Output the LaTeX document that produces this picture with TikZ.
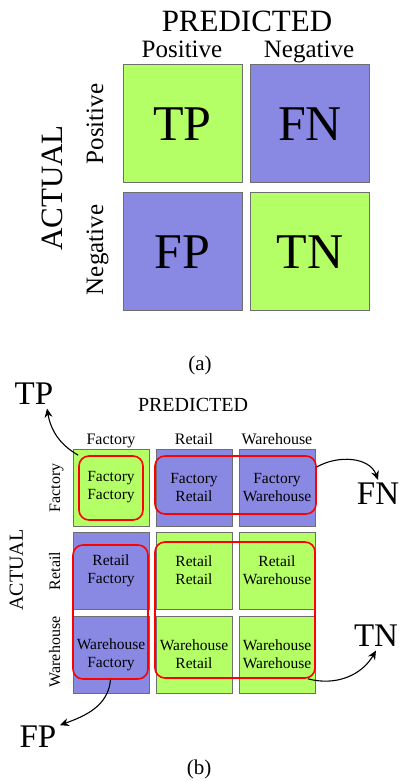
\documentclass[tikz,border=0pt]{standalone}
\usepackage{fontspec}
\setmainfont{Liberation Serif}
\usetikzlibrary{arrows.meta}

\definecolor{tpgreen}{RGB}{180,255,102}
\definecolor{fnblue}{RGB}{137,137,228}
\definecolor{edgegray}{RGB}{110,110,110}

\tikzset{
  cellA/.style={draw=edgegray, line width=1pt, minimum width=119pt, minimum height=118pt,
    inner sep=0pt, font=\fontsize{50}{55}\selectfont},
  cellB/.style={draw=edgegray, line width=0.8pt, minimum width=76pt, minimum height=77pt,
    inner sep=0pt, align=center, font=\fontsize{15.5}{18}\selectfont},
  redbox/.style={draw=red, line width=1.6pt, rounded corners=10pt, inner sep=0pt},
  bigtag/.style={anchor=base, font=\fontsize{33}{36}\selectfont},
  sidetag/.style={anchor=base, rotate=90},
  curlink/.style={-{Stealth[length=9pt,width=8pt]}, line width=1.1pt},
}

\begin{document}
\begin{tikzpicture}[x=1pt,y=1pt]
  \useasboundingbox (0,0) rectangle (401,781);
    % ---- (a): two-class matrix ----
    \begin{scope}
      \node[cellA, fill=tpgreen] (tp) at (182.5,657) {TP};
      \node[cellA, fill=fnblue]  (fn) at (310,657)   {FN};
      \node[cellA, fill=fnblue]  (fp) at (182.5,529) {FP};
      \node[cellA, fill=tpgreen] (tn) at (310,529)   {TN};
      \node[anchor=base, font=\fontsize{31}{34}\selectfont] (predA) at (247,749) {PREDICTED};
      \node[anchor=base, font=\fontsize{25}{28}\selectfont] (colpos) at (182,723) {Positive};
      \node[anchor=base, font=\fontsize{25}{28}\selectfont] (colneg) at (309,723) {Negative};
      \node[sidetag, font=\fontsize{31}{34}\selectfont] (actA) at (62,593) {ACTUAL};
      \node[sidetag, font=\fontsize{25}{28}\selectfont] (rowpos) at (103,657) {Positive};
      \node[sidetag, font=\fontsize{25}{28}\selectfont] (rowneg) at (103,531) {Negative};
      \node[font=\fontsize{21}{24}\selectfont] (capa) at (200,416) {(a)};
    \end{scope}
    % ---- (b): three-class matrix ----
    \begin{scope}
      \foreach \x/\y/\col/\nm/\txt in {%
        111/293.5/tpgreen/ff/{Factory\\Factory},194/293.5/fnblue/fr/{Factory\\Retail},%
        277/293.5/fnblue/fw/{Factory\\Warehouse},%
        111/210.5/fnblue/rf/{Retail\\Factory},194/210.5/tpgreen/rr/{Retail\\Retail},%
        277/210.5/tpgreen/rw/{Retail\\Warehouse},%
        111/126.5/fnblue/wf/{Warehouse\\Factory},194/126.5/tpgreen/wr/{Warehouse\\Retail},%
        277/126.5/tpgreen/ww/{Warehouse\\Warehouse}}{
          \node[cellB, fill=\col] (c\nm) at (\x,\y) {\txt};}
      \node[redbox, minimum width=64pt,  minimum height=64pt]  (tpbox) at (111,293)   {};
      \node[redbox, minimum width=161pt, minimum height=58pt]  (fnbox) at (235.5,296) {};
      \node[redbox, minimum width=75pt,  minimum height=134pt] (fpbox) at (110.5,169) {};
      \node[redbox, minimum width=160pt, minimum height=136pt] (tnbox) at (235,171)   {};
      \node[anchor=base, font=\fontsize{20}{23}\selectfont] (predB) at (193,369) {PREDICTED};
      \foreach \x/\nm/\txt in {111/f/Factory,194/r/Retail,277/w/Warehouse}{
        \node[anchor=base, font=\fontsize{16}{19}\selectfont] (col\nm) at (\x,336) {\txt};}
      \foreach \y/\nm/\txt in {293/f/Factory,210/r/Retail,129/w/Warehouse}{
        \node[sidetag, font=\fontsize{16}{19}\selectfont] (row\nm) at (60,\y) {\txt};}
      \node[sidetag, font=\fontsize{20}{23}\selectfont] (actB) at (23,211) {ACTUAL};
      \node[bigtag] (tptag) at (34,376)  {TP};
      \node[bigtag] (fntag) at (378,276) {FN};
      \node[bigtag] (tntag) at (376,134) {TN};
      \node[bigtag] (fptag) at (38,33)   {FP};
      \draw[curlink] (tpbox.north west) to[out=150,in=-80] ([xshift=13pt]tptag.south);
      \draw[curlink] ([yshift=18pt]fnbox.east) to[out=30,in=110] (fntag.north);
      \draw[curlink] ([xshift=-8pt]tnbox.south east) to[out=-15,in=-120] (tntag.south);
      \draw[curlink] (fpbox.south) to[out=-95,in=20] ([yshift=12pt]fptag.east);
      \node[font=\fontsize{21}{24}\selectfont] (capb) at (199,12) {(b)};
    \end{scope}
\end{tikzpicture}
\end{document}
